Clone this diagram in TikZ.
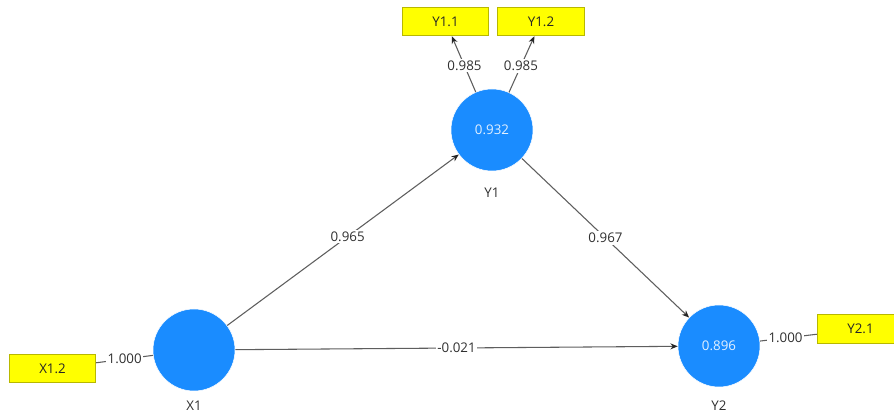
\documentclass[tikz,border=0pt]{standalone}
\usepackage{fontspec}
\setmainfont{Open Sans}
\usetikzlibrary{arrows.meta}
\definecolor{lvblue}{HTML}{1A8CFF}
\definecolor{indyellow}{HTML}{FFFF00}
\definecolor{indborder}{HTML}{B8B800}
\definecolor{pathgray}{HTML}{5E5E5E}
\definecolor{txtgray}{HTML}{303030}
\tikzset{
  latent/.style={circle, fill=lvblue, draw=white, line width=0.4pt, minimum size=61.5pt, inner sep=0pt,
    text=white!88!lvblue, font=\fontsize{10}{12}\selectfont},
  indicator/.style={rectangle, fill=indyellow, draw=indborder, line width=0.6pt,
    minimum width=65pt, minimum height=21.5pt, inner sep=0pt, text=black!85, font=\fontsize{10}{12}\selectfont},
  lvname/.style={text=txtgray, font=\fontsize{10}{12}\selectfont},
  path/.style={draw=pathgray, line width=0.8pt, -{Stealth[length=5.5pt, width=4.5pt, color=black!85]}},
  link/.style={draw=pathgray, line width=0.8pt},
  coef/.style={fill=white, inner sep=1.2pt, text=txtgray, font=\fontsize{10}{12}\selectfont}
}
\begin{document}
\begin{tikzpicture}[x=0.75pt, y=-0.75pt]
  \clip (0,0) rectangle (894,417);
  \fill[white] (0,0) rectangle (894,417);

  % latent variables
  \node[latent] (X1) at (194,350) {};
  \node[latent] (Y1) at (492,130) {0.932};
  \node[latent] (Y2) at (719,346) {0.896};

  % latent variable names
  \node[lvname] (X1name) at (194,406) {X1};
  \node[lvname] (Y1name) at (492,193) {Y1};
  \node[lvname] (Y2name) at (719,406) {Y2};

  % indicators
  \node[indicator] (Y11) at (445.5,21.5) {Y1.1};
  \node[indicator] (Y12) at (541,21.5) {Y1.2};
  \node[indicator] (X12) at (52.5,368.5) {X1.2};
  \node[indicator] (Y21) at (860.5,329) {Y2.1};

  % measurement model
  \draw[path] (Y1) -- node[coef, pos=0.47] {0.985} (Y11);
  \draw[path] (Y1) -- node[coef, pos=0.47] {0.985} (Y12);
  \draw[link] (X12) -- node[coef, pos=0.5] {1.000} (X1);
  \draw[link] (Y2) -- node[coef, pos=0.45] {1.000} (Y21);

  % structural model
  \draw[path] (X1) -- node[coef, pos=0.52] {0.965} (Y1);
  \draw[path] (Y1) -- node[coef, pos=0.5] {0.967} (Y2);
  \draw[path] (X1) -- node[coef, pos=0.5] {-0.021} (Y2);
\end{tikzpicture}
\end{document}
